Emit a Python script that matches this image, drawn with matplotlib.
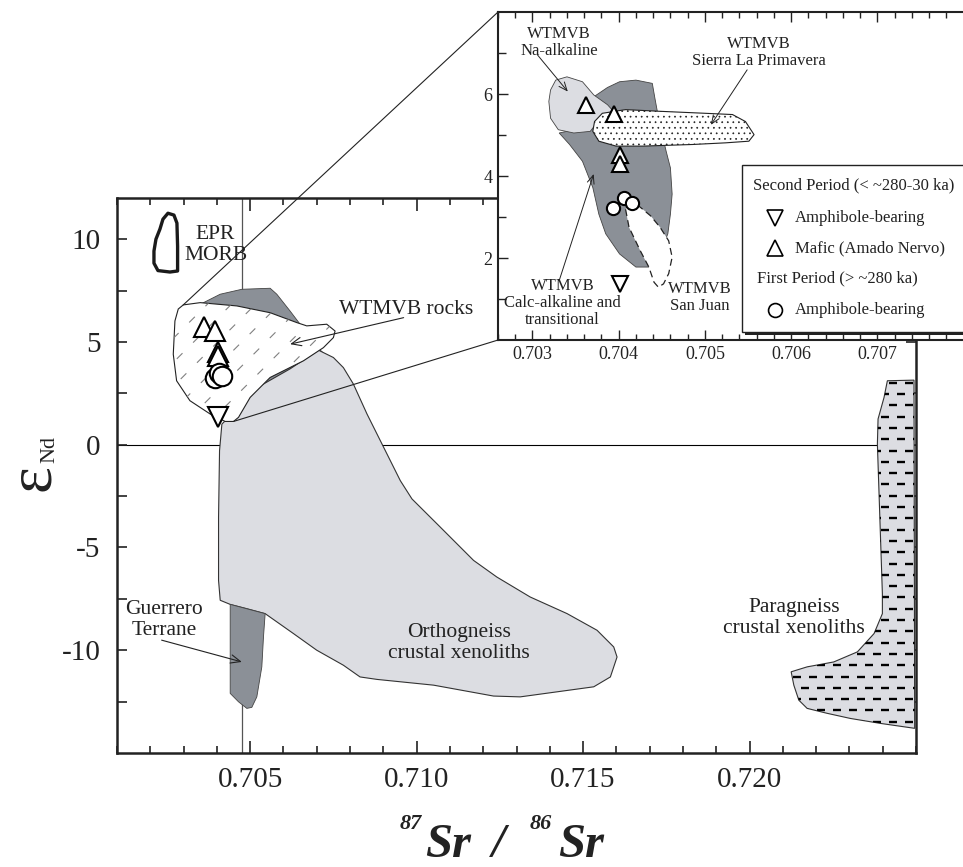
import numpy as np
import matplotlib
matplotlib.use('Agg')
import matplotlib.pyplot as plt
from matplotlib.patches import Polygon, Rectangle, ConnectionPatch
from matplotlib.lines import Line2D
from matplotlib.transforms import IdentityTransform
from matplotlib.ticker import FixedLocator, MultipleLocator, FormatStrFormatter

plt.rcParams['font.family'] = ['Liberation Serif', 'DejaVu Serif']
plt.rcParams['axes.unicode_minus'] = False
plt.rcParams['lines.scale_dashes'] = False
plt.rcParams['hatch.linewidth'] = 0.5

LIGHT = '#dcdde2'
DARK = '#8b9097'

# ---- main diagram fields (87Sr/86Sr , eNd) ----
epr_sr = [0.70253, 0.70271, 0.70280, 0.70282, 0.70282, 0.70259, 0.70223, 0.70211,
          0.70211, 0.70217, 0.70229, 0.70238]
epr_nd = [11.26, 11.17, 10.78, 9.66, 8.45, 8.40, 8.47, 8.83, 9.42, 10.0, 10.49, 10.97]

calc_sr = [0.70334, 0.70350, 0.70410, 0.70475, 0.70560, 0.70580, 0.70620, 0.70650,
           0.70686, 0.70710, 0.70722, 0.70704, 0.70620, 0.70500, 0.70380, 0.70319]
calc_nd = [6.75, 6.83, 7.32, 7.56, 7.61, 7.32, 6.50, 5.86, 5.15, 4.61, 4.42, 3.83,
           3.11, 2.38, 3.11, 5.53]

ortho_sr = [0.70705, 0.70750, 0.70780, 0.70810, 0.70851, 0.70901, 0.70951, 0.70986,
            0.71071, 0.71171, 0.71241, 0.71341, 0.71452, 0.71542, 0.71592, 0.71602,
            0.71582, 0.71532, 0.71311, 0.71231, 0.71051, 0.70881, 0.70830, 0.70780,
            0.70700, 0.70630, 0.70545, 0.70490, 0.70440, 0.70410, 0.70405, 0.70405,
            0.70408, 0.70415, 0.70470, 0.70530, 0.70620]
ortho_nd = [4.60, 4.24, 3.75, 2.95, 1.49, -0.13, -1.75, -2.64, -4.01, -5.63, -6.44,
            -7.41, -8.22, -9.03, -9.84, -10.33, -11.30, -11.78, -12.27, -12.23,
            -11.70, -11.42, -11.30, -10.73, -10.00, -9.19, -8.22, -7.98, -7.77,
            -7.57, -6.60, -3.53, -0.29, 1.00, 1.89, 2.86, 3.69]

guer_sr = [0.70440, 0.70545, 0.70540, 0.70535, 0.70520, 0.70505, 0.70490, 0.70465,
           0.70440, 0.70440]
guer_nd = [-7.77, -8.22, -9.35, -10.81, -12.27, -12.78, -12.83, -12.51, -12.10, -10.00]

wtmvb_sr = [0.70299, 0.70350, 0.70460, 0.70560, 0.70640, 0.70670, 0.70730, 0.70755,
            0.70750, 0.70720, 0.70660, 0.70560, 0.70500, 0.70465, 0.70450, 0.70425,
            0.70380, 0.70319, 0.70279, 0.70269, 0.70274, 0.70284]
wtmvb_nd = [6.80, 6.91, 6.75, 6.42, 5.94, 5.78, 5.86, 5.53, 5.21, 4.72, 4.08, 3.27,
            2.30, 1.33, 1.13, 1.13, 1.49, 2.14, 3.11, 4.40, 6.02, 6.60]

para_sr = [0.72414, 0.72494, 0.72496, 0.72393, 0.72303, 0.72233, 0.72173, 0.72148,
           0.72133, 0.72125, 0.72173, 0.72253, 0.72324, 0.72374, 0.72399, 0.72399,
           0.72394, 0.72389, 0.72384, 0.72386, 0.72404]
para_nd = [3.11, 3.14, -13.80, -13.56, -13.32, -13.07, -12.83, -12.43, -11.70, -11.05,
           -10.81, -10.57, -10.08, -9.19, -8.22, -7.25, -4.82, -2.39, 0.03, 1.25, 2.30]

# ---- inset fields ----
na_sr = [0.70321, 0.70327, 0.70340, 0.70358, 0.70371, 0.70387, 0.70396, 0.70381,
         0.70373, 0.70367, 0.70348, 0.70330, 0.70321, 0.70319]
na_nd = [6.10, 6.34, 6.42, 6.30, 5.98, 5.74, 5.53, 5.41, 5.25, 5.09, 5.05, 5.13,
         5.41, 5.82]

ca_sr = [0.70331, 0.70367, 0.70373, 0.70387, 0.70401, 0.70420, 0.70439, 0.70442,
         0.70447, 0.70455, 0.70460, 0.70462, 0.70460, 0.70457, 0.70447, 0.70435,
         0.70420, 0.70401, 0.70385, 0.70377, 0.70370, 0.70358, 0.70343]
ca_nd = [5.05, 5.21, 5.96, 6.16, 6.30, 6.34, 6.26, 5.90, 5.33, 4.61, 4.20, 3.56,
         3.07, 2.59, 2.06, 1.78, 1.78, 2.10, 2.59, 3.07, 3.72, 4.36, 4.77]

sj_sr = [0.70408, 0.70412, 0.70425, 0.70435, 0.70441, 0.70446, 0.70452, 0.70458,
         0.70462, 0.70458, 0.70448, 0.70437, 0.70421, 0.70414]
sj_nd = [3.19, 2.75, 2.18, 1.78, 1.41, 1.29, 1.37, 1.62, 2.02, 2.42, 2.75, 3.03,
         3.31, 3.35]

slp_sr = [0.70372, 0.70381, 0.70408, 0.70447, 0.70501, 0.70532, 0.70547, 0.70557,
          0.70551, 0.70524, 0.70486, 0.70428, 0.70397, 0.70377, 0.70370]
slp_nd = [5.33, 5.53, 5.62, 5.58, 5.53, 5.50, 5.33, 5.01, 4.85, 4.81, 4.77, 4.73,
          4.73, 4.85, 5.09]

# ---- samples ----
amph2_sr = [0.70402]
amph2_nd = [1.36]
mafic_sr = [0.70362, 0.70395, 0.70402, 0.70402]
mafic_nd = [5.74, 5.51, 4.51, 4.30]
amph1_sr = [0.70393, 0.70406, 0.70415]
amph1_nd = [3.22, 3.47, 3.35]


def dash_texture(ax, patch, angle, gap_px, on_px, off_px, color, lw):
    # rows of short dashes, drawn in pixels and clipped to the field outline
    verts = ax.transData.transform(patch.get_xy())
    c = verts.mean(axis=0)
    r = np.hypot(*(verts - c).T).max() + gap_px
    t = np.deg2rad(angle)
    d = np.array([np.cos(t), np.sin(t)])
    n = np.array([-np.sin(t), np.cos(t)])
    period = on_px + off_px
    for i, k in enumerate(np.arange(-r, r + gap_px, gap_px)):
        p0 = c + n * k - d * r
        p1 = c + n * k + d * r
        off = (i % 2) * 0.5 * period
        ln = Line2D([p0[0], p1[0]], [p0[1], p1[1]], transform=IdentityTransform(),
                    color=color, lw=lw,
                    linestyle=(off * 0.72, (on_px * 0.72, off_px * 0.72)),
                    dash_capstyle='butt', zorder=patch.get_zorder() + 0.1)
        ln.set_clip_path(patch)
        ax.add_artist(ln)


fig = plt.figure(figsize=(9.63, 8.67), dpi=100)
ax = fig.add_axes([0.1215, 0.1315, 0.8297, 0.6401])
ax.set_xlim(0.701, 0.725)
ax.set_ylim(-15, 12)

ax.axhline(0, color='black', lw=0.8, zorder=1)
ax.axvline(0.70475, color='#555555', lw=0.9, zorder=1)

ax.add_patch(Polygon(np.column_stack([calc_sr, calc_nd]), closed=True,
                     facecolor=DARK, edgecolor='#444444', lw=0.6, zorder=2))
ax.add_patch(Polygon(np.column_stack([ortho_sr, ortho_nd]), closed=True,
                     facecolor=LIGHT, edgecolor='#333333', lw=0.8, zorder=3))
ax.add_patch(Polygon(np.column_stack([guer_sr, guer_nd]), closed=True,
                     facecolor=DARK, edgecolor='#444444', lw=0.6, zorder=3.5))
para = Polygon(np.column_stack([para_sr, para_nd]), closed=True,
               facecolor=LIGHT, edgecolor='#333333', lw=0.8, zorder=3)
ax.add_patch(para)
dash_texture(ax, para, 0, 11.3, 8, 8, 'black', 1.7)
wt = Polygon(np.column_stack([wtmvb_sr, wtmvb_nd]), closed=True,
             facecolor='white', edgecolor='#222222', lw=0.8, zorder=4)
ax.add_patch(wt)
dash_texture(ax, wt, 45, 17, 8, 15, '#808080', 0.8)
ax.add_patch(Polygon(np.column_stack([epr_sr, epr_nd]), closed=True,
                     facecolor='none', edgecolor='#1a1a1a', lw=2.4, zorder=4,
                     joinstyle='round'))

mk = dict(ls='none', mfc='white', mec='black', mew=1.5, zorder=6)
ax.plot(mafic_sr, mafic_nd, marker='^', ms=14, **mk)
ax.plot(amph2_sr, amph2_nd, marker='v', ms=14, **mk)
ax.plot(amph1_sr, amph1_nd, marker='o', ms=14, **mk)

tf = dict(fontsize=15.5, color='#222222', ha='center', va='center', linespacing=1.15)
ax.text(0.70396, 9.71, 'EPR\nMORB', **tf)
ax.text(0.70968, 6.59, 'WTMVB rocks', **tf)
ax.text(0.70241, -8.54, 'Guerrero\nTerrane', **tf)
ax.text(0.71128, -9.66, 'Orthogneiss\ncrustal xenoliths', **tf)
ax.text(0.72133, -8.45, 'Paragneiss\ncrustal xenoliths', **tf)
ap = dict(arrowstyle='->,head_length=0.7,head_width=0.3', lw=0.8, color='#222222',
          shrinkA=0, shrinkB=0)
ax.annotate('', xy=(0.70620, 4.89), xytext=(0.70961, 6.18), arrowprops=ap, zorder=7)
ax.annotate('', xy=(0.70475, -10.57), xytext=(0.70234, -9.51), arrowprops=ap, zorder=7)

ax.xaxis.set_major_locator(FixedLocator([0.705, 0.710, 0.715, 0.720]))
ax.xaxis.set_minor_locator(MultipleLocator(0.001))
ax.xaxis.set_major_formatter(FormatStrFormatter('%.3f'))
ax.yaxis.set_major_locator(FixedLocator([-10, -5, 0, 5, 10]))
ax.yaxis.set_minor_locator(FixedLocator([-12.5, -7.5, -2.5, 2.5, 7.5]))
ax.tick_params(which='both', direction='in', top=True, right=True, width=1.2,
               labelsize=21, colors='#222222')
ax.tick_params(axis='x', which='major', length=9, pad=10)
ax.tick_params(axis='x', which='minor', length=5)
ax.tick_params(axis='y', which='both', length=7, pad=12)
for s in ax.spines.values():
    s.set_linewidth(1.8)
    s.set_color('#222222')

# ---- inset ----
axin = fig.add_axes([0.5171, 0.6078, 0.5005, 0.3783])
axin.set_xlim(0.7026, 0.70819)
axin.set_ylim(0, 8)
axin.add_patch(Polygon(np.column_stack([ca_sr, ca_nd]), closed=True,
                       facecolor=DARK, edgecolor='#444444', lw=0.6, zorder=2))
axin.add_patch(Polygon(np.column_stack([na_sr, na_nd]), closed=True,
                       facecolor=LIGHT, edgecolor='#444444', lw=0.6, zorder=3))
axin.add_patch(Polygon(np.column_stack([sj_sr, sj_nd]), closed=True,
                       facecolor='white', edgecolor='#222222', lw=0.9, ls=(0, (5, 3)),
                       zorder=3))
axin.add_patch(Polygon(np.column_stack([slp_sr, slp_nd]), closed=True,
                       facecolor='white', edgecolor='#222222', lw=0.8, hatch='...',
                       zorder=4))

axin.plot(mafic_sr, mafic_nd, marker='^', ms=12, **mk)
axin.plot(amph2_sr, amph2_nd, marker='v', ms=12, **mk)
axin.plot(amph1_sr, amph1_nd, marker='o', ms=9.5, **mk)

ti = dict(fontsize=12, color='#222222', ha='center', va='center', linespacing=1.1)
axin.text(0.70331, 7.25, 'WTMVB\nNa-alkaline', **ti)
axin.text(0.70563, 7.01, 'WTMVB\nSierra La Primavera', **ti)
axin.text(0.70335, 0.90, 'WTMVB\nCalc-alkaline and\ntransitional', **ti)
axin.text(0.70494, 1.04, 'WTMVB\nSan Juan', **ti)
api = dict(arrowstyle='->,head_length=0.6,head_width=0.25', lw=0.7, color='#222222',
           shrinkA=0, shrinkB=0)
axin.annotate('', xy=(0.70341, 6.06), xytext=(0.70306, 6.95), arrowprops=api, zorder=7)
axin.annotate('', xy=(0.70507, 5.25), xytext=(0.70549, 6.59), arrowprops=api, zorder=7)
axin.annotate('', xy=(0.70371, 4.05), xytext=(0.70331, 1.45), arrowprops=api, zorder=7)

# legend box
dx, dy = 3 / 482, 3 / 328
axin.add_patch(Rectangle((0.5056 + dx, 0.0253 - dy), 0.6, 0.5082, transform=axin.transAxes,
                         facecolor='#222222', edgecolor='none', zorder=8))
axin.add_patch(Rectangle((0.5056, 0.0253), 0.6, 0.5082, transform=axin.transAxes,
                         facecolor='white', edgecolor='#222222', lw=1.0, zorder=8.5))
tl = dict(transform=axin.transAxes, fontsize=12, color='#222222', va='center', zorder=9)
axin.text(0.5297, 0.4726, 'Second Period (< ~280-30 ka)', **tl)
axin.text(0.6162, 0.3729, 'Amphibole-bearing', **tl)
axin.text(0.6162, 0.2796, 'Mafic (Amado Nervo)', **tl)
axin.text(0.5367, 0.1881, 'First Period (> ~280 ka)', **tl)
axin.text(0.6162, 0.0915, 'Amphibole-bearing', **tl)
lk = dict(transform=axin.transAxes, ls='none', mfc='white', mec='black', mew=1.2, zorder=9)
axin.plot([0.5747], [0.3729], marker='v', ms=11, **lk)
axin.plot([0.5747], [0.2796], marker='^', ms=11, **lk)
axin.plot([0.5747], [0.0915], marker='o', ms=10, **lk)

axin.xaxis.set_major_locator(FixedLocator([0.703, 0.704, 0.705, 0.706, 0.707]))
axin.xaxis.set_minor_locator(MultipleLocator(0.0002))
axin.xaxis.set_major_formatter(FormatStrFormatter('%.3f'))
axin.yaxis.set_major_locator(FixedLocator([2, 4, 6]))
axin.yaxis.set_minor_locator(FixedLocator([1, 3, 5, 7]))
axin.tick_params(which='both', direction='in', top=True, right=True, width=1.0,
                 labelsize=13, colors='#222222', pad=4)
axin.tick_params(which='major', length=7)
axin.tick_params(which='minor', length=4)
axin.tick_params(axis='y', which='minor', length=6)
for s in axin.spines.values():
    s.set_linewidth(1.5)
    s.set_color('#222222')

# zoom lines from the WTMVB field to the inset corners
for xy, corner in [((0.70299, 6.80), (0, 1)), ((0.70450, 1.13), (0, 0))]:
    fig.add_artist(ConnectionPatch(xyA=xy, coordsA=ax.transData, xyB=corner,
                                   coordsB=axin.transAxes, color='#222222', lw=0.8))

# axis titles
lab = dict(color='#222222', fontweight='bold', fontstyle='italic', va='baseline')
fig.text(400 / 963, 1 - 829 / 867, '87', fontsize=16, **lab)
fig.text(425 / 963, 1 - 857 / 867, 'Sr', fontsize=35, **lab)
fig.text(492 / 963, 1 - 857 / 867, '/', fontsize=35, **lab)
fig.text(530 / 963, 1 - 829 / 867, '86', fontsize=16, **lab)
fig.text(558 / 963, 1 - 857 / 867, 'Sr', fontsize=35, **lab)

fig.text(34 / 963, 1 - 478 / 867, 'ε', fontsize=46, rotation=90, ha='center', va='center',
         color='#222222')
fig.text(50 / 963, 1 - 450 / 867, 'Nd', fontsize=16, rotation=90, ha='center', va='center',
         color='#222222')

fig.savefig('out.png', dpi=100)
